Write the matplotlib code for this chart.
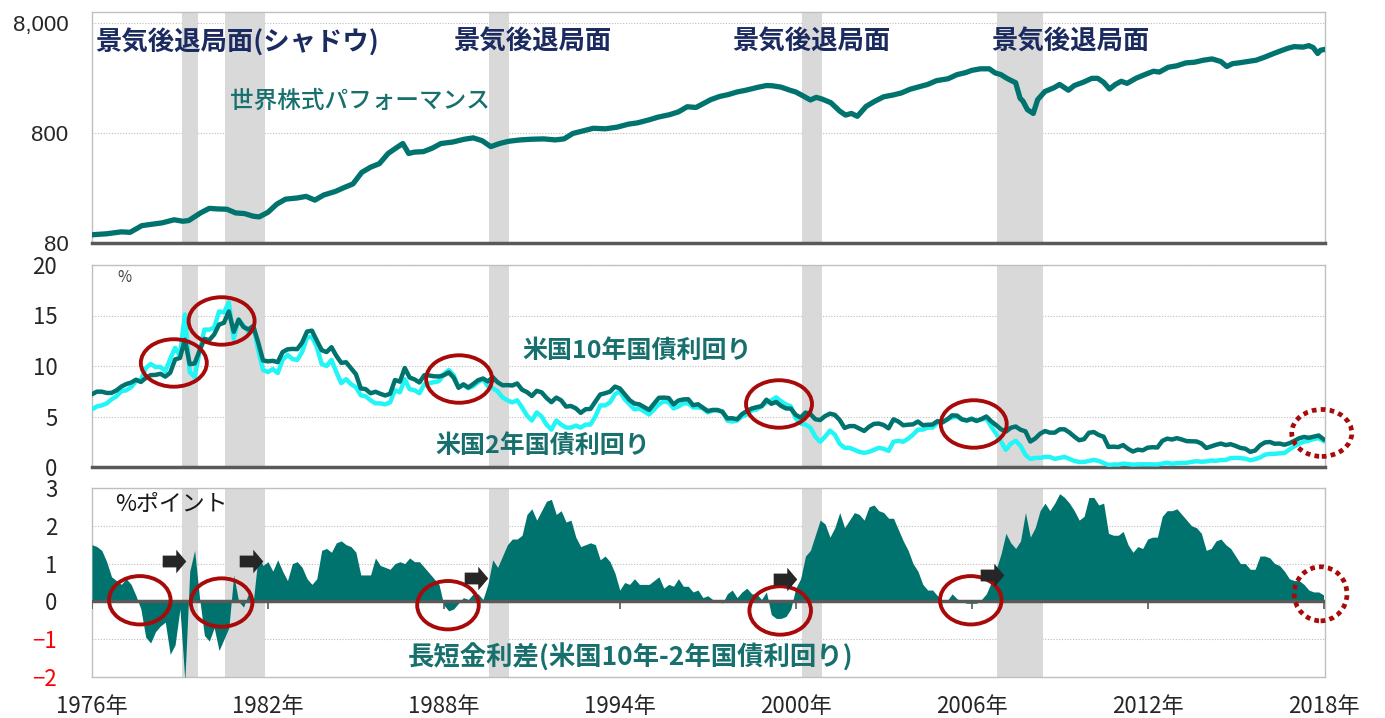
import numpy as np
import matplotlib
matplotlib.use("Agg")
import matplotlib.pyplot as plt
from matplotlib.patches import Ellipse
from matplotlib.path import Path

plt.rcParams['font.family'] = ['Noto Sans CJK JP', 'DejaVu Sans']

# ---------------- data ----------------
# world equity performance (log scale)
stock_years = [1976.0, 1976.5, 1977.0, 1977.3, 1977.7, 1978.0, 1978.4, 1978.8, 1979.1, 1979.3,
               1979.7, 1980.0, 1980.3, 1980.6, 1980.9, 1981.2, 1981.5, 1981.7, 1982.0, 1982.3,
               1982.6, 1983.0, 1983.3, 1983.6, 1983.9, 1984.3, 1984.6, 1984.9, 1985.2, 1985.5,
               1985.8, 1986.1, 1986.4, 1986.6, 1986.8, 1987.0, 1987.3, 1987.6, 1987.9, 1988.3,
               1988.7, 1989.0, 1989.3, 1989.6, 1989.9, 1990.2, 1990.6, 1991.0, 1991.4, 1991.8,
               1992.1, 1992.4, 1992.8, 1993.1, 1993.5, 1993.9, 1994.3, 1994.6, 1995.0, 1995.3,
               1995.7, 1996.0, 1996.3, 1996.6, 1996.8, 1997.1, 1997.4, 1997.7, 1998.0, 1998.3,
               1998.7, 1999.0, 1999.2, 1999.5, 1999.8, 2000.0, 2000.2, 2000.5, 2000.7, 2000.9,
               2001.2, 2001.5, 2001.7, 2001.9, 2002.1, 2002.4, 2002.7, 2003.0, 2003.3, 2003.6,
               2003.9, 2004.2, 2004.5, 2004.8, 2005.2, 2005.5, 2005.8, 2006.0, 2006.3, 2006.6,
               2006.8, 2007.0, 2007.2, 2007.5, 2007.65, 2007.75, 2007.9, 2008.0, 2008.1, 2008.25,
               2008.5, 2008.8, 2009.0, 2009.3, 2009.5, 2009.8, 2010.1, 2010.3, 2010.5, 2010.7,
               2010.9, 2011.1, 2011.3, 2011.6, 2011.9, 2012.2, 2012.4, 2012.7, 2013.0, 2013.3,
               2013.6, 2013.9, 2014.2, 2014.5, 2014.7, 2014.9, 2015.1, 2015.4, 2015.7, 2016.0,
               2016.3, 2016.6, 2016.8, 2017.0, 2017.3, 2017.5, 2017.65, 2017.8, 2017.9, 2018.0]
stock_values = [95, 97, 101, 100, 115, 118, 122, 130, 126, 128,
                150, 165, 163, 162, 150, 148, 140, 138, 152, 180,
                200, 205, 212, 196, 218, 235, 255, 275, 350, 390,
                420, 520, 590, 640, 520, 535, 540, 580, 640, 660,
                700, 720, 680, 600, 640, 670, 690, 700, 705, 690,
                705, 790, 840, 880, 870, 900, 960, 985, 1050, 1110,
                1170, 1240, 1380, 1360, 1450, 1600, 1710, 1780, 1880, 1950,
                2070, 2150, 2140, 2080, 1950, 1880, 1760, 1590, 1680, 1620,
                1500, 1260, 1160, 1200, 1130, 1390, 1550, 1700, 1760, 1840,
                1990, 2090, 2200, 2380, 2480, 2700, 2820, 2950, 3050, 3050,
                2800, 2700, 2500, 2280, 1650, 1550, 1300, 1250, 1200, 1600,
                1900, 2050, 2200, 1950, 2150, 2300, 2500, 2500, 2300, 2000,
                2200, 2350, 2250, 2500, 2700, 2900, 2850, 3150, 3250, 3450,
                3500, 3650, 3750, 3550, 3200, 3400, 3450, 3550, 3650, 3900,
                4200, 4500, 4700, 4850, 4800, 4950, 4750, 4200, 4500, 4550]

# US 10y / 2y yields (%), every two months from the left edge of the axis
us10y = [7.21, 7.46, 7.46, 7.33, 7.34, 7.58,
         7.96, 8.21, 8.36, 8.64, 8.42, 8.81,
         9.10, 9.12, 9.23, 8.95, 9.33, 10.65,
         10.80, 12.60, 10.18, 10.25, 11.51, 12.68,
         12.57, 13.12, 14.10, 14.28, 15.40, 13.39,
         14.59, 13.86, 13.62, 13.95, 12.34, 10.55,
         10.46, 10.51, 10.38, 11.38, 11.65, 11.69,
         11.67, 12.32, 13.41, 13.50, 12.52, 11.57,
         11.38, 11.86, 11.01, 10.31, 10.37, 9.78,
         9.19, 7.78, 7.71, 7.30, 7.45, 7.25,
         7.08, 7.25, 8.61, 8.45, 9.80, 8.86,
         8.67, 8.37, 9.09, 9.06, 8.98, 8.96,
         9.09, 9.36, 8.86, 7.84, 8.19, 7.87,
         8.21, 8.59, 8.76, 8.47, 8.89, 8.39,
         8.09, 8.11, 8.07, 8.27, 7.65, 7.42,
         7.03, 7.54, 7.39, 6.84, 6.42, 6.87,
         6.60, 5.98, 6.04, 5.81, 5.36, 5.72,
         5.75, 6.48, 7.18, 7.30, 7.46, 7.96,
         7.78, 7.20, 6.62, 6.28, 6.20, 5.93,
         5.65, 6.27, 6.85, 6.87, 6.83, 6.20,
         6.58, 6.69, 6.71, 6.12, 6.21, 5.88,
         5.54, 5.65, 5.65, 5.46, 4.81, 4.83,
         4.72, 5.23, 5.54, 5.79, 5.92, 6.03,
         6.66, 6.26, 6.44, 6.05, 5.80, 5.78,
         5.16, 4.89, 5.39, 5.24, 4.73, 4.65,
         5.04, 5.28, 5.16, 4.65, 3.87, 4.05,
         4.05, 3.81, 3.57, 3.98, 4.27, 4.30,
         4.15, 3.83, 4.72, 4.50, 4.13, 4.19,
         4.22, 4.50, 4.14, 4.18, 4.20, 4.54,
         4.42, 4.72, 5.11, 5.09, 4.72, 4.60,
         4.76, 4.56, 4.75, 5.00, 4.52, 4.15,
         3.74, 3.51, 3.88, 4.01, 3.69, 3.53,
         2.52, 2.82, 3.29, 3.56, 3.40, 3.40,
         3.73, 3.73, 3.42, 3.01, 2.65, 2.76,
         3.39, 3.46, 3.17, 3.00, 1.98, 2.01,
         1.97, 2.17, 1.80, 1.53, 1.72, 1.65,
         1.91, 1.96, 1.93, 2.58, 2.81, 2.72,
         2.86, 2.72, 2.56, 2.54, 2.53, 2.33,
         1.88, 2.04, 2.20, 2.32, 2.17, 2.26,
         2.09, 1.89, 1.81, 1.50, 1.63, 2.14,
         2.43, 2.48, 2.30, 2.32, 2.20, 2.35,
         2.58, 2.84, 2.98, 2.89, 3.00, 3.12,
         2.75]
us2y = [5.70, 6.00, 6.10, 6.30, 6.70, 7.00,
        7.50, 7.60, 7.90, 8.50, 8.60, 9.80,
        10.20, 9.90, 9.90, 9.50, 10.70, 11.80,
        11.00, 15.10, 9.40, 8.90, 11.40, 13.60,
        13.60, 13.80, 15.40, 15.30, 16.30, 12.70,
        14.60, 14.00, 13.40, 14.00, 11.60, 9.60,
        9.40, 9.70, 9.30, 10.60, 11.10, 10.70,
        10.60, 11.40, 12.80, 12.90, 11.90, 10.20,
        10.00, 10.60, 9.40, 8.30, 8.70, 8.20,
        7.90, 7.10, 7.00, 6.60, 6.30, 6.30,
        6.20, 6.40, 7.60, 7.40, 8.70, 7.70,
        7.60, 7.30, 8.20, 8.30, 8.40, 8.50,
        9.20, 9.60, 9.10, 7.90, 8.10, 7.80,
        8.00, 8.40, 8.70, 8.00, 7.80, 7.50,
        6.90, 6.60, 6.40, 6.60, 5.90, 5.10,
        4.60, 5.40, 5.00, 4.20, 3.70, 4.60,
        4.20, 3.90, 3.90, 4.10, 3.90, 4.20,
        4.20, 5.00, 6.10, 6.10, 6.40, 7.20,
        7.50, 6.70, 6.20, 5.70, 5.80, 5.50,
        5.20, 5.70, 6.20, 6.50, 6.40, 5.80,
        6.00, 6.30, 6.30, 5.90, 5.90, 5.80,
        5.40, 5.60, 5.60, 5.50, 4.60, 4.50,
        4.60, 5.00, 5.20, 5.60, 5.70, 6.00,
        6.40, 6.60, 6.90, 6.50, 6.20, 6.00,
        4.80, 4.30, 4.20, 3.90, 3.00, 2.50,
        3.00, 3.60, 3.20, 2.30, 1.90, 1.90,
        1.70, 1.50, 1.40, 1.50, 1.70, 1.90,
        1.80, 1.60, 2.50, 2.60, 2.50, 2.80,
        3.20, 3.70, 3.70, 3.90, 3.90, 4.40,
        4.40, 4.70, 4.90, 5.00, 4.70, 4.60,
        4.80, 4.60, 4.70, 4.80, 4.00, 3.30,
        2.50, 1.70, 2.30, 2.60, 2.10, 1.20,
        0.80, 0.90, 0.90, 1.00, 1.00, 0.80,
        0.90, 1.00, 0.80, 0.60, 0.50, 0.50,
        0.60, 0.70, 0.60, 0.40, 0.20, 0.25,
        0.24, 0.33, 0.29, 0.23, 0.26, 0.27,
        0.27, 0.26, 0.25, 0.34, 0.43, 0.31,
        0.39, 0.40, 0.42, 0.51, 0.57, 0.52,
        0.55, 0.64, 0.61, 0.69, 0.69, 0.88,
        0.90, 0.88, 0.82, 0.67, 0.77, 0.94,
        1.21, 1.31, 1.30, 1.36, 1.38, 1.73,
        2.03, 2.31, 2.51, 2.61, 2.77, 2.86,
        2.58]
# 10y-2y spread (% points), same dates
spread = [1.50, 1.45, 1.35, 1.05, 0.65, 0.55,
          0.45, 0.60, 0.45, 0.15, -0.20, -0.95,
          -1.10, -0.80, -0.65, -0.55, -1.40, -1.15,
          -0.20, -2.10, 0.80, 1.35, 0.10, -0.90,
          -1.05, -0.70, -1.30, -1.00, -0.70, 0.70,
          0.00, -0.15, 0.20, 0.00, 1.20, 0.95,
          1.05, 0.80, 1.10, 0.80, 0.55, 1.00,
          1.05, 0.90, 0.60, 0.45, 0.60, 1.35,
          1.40, 1.30, 1.55, 1.60, 1.50, 1.45,
          1.30, 0.70, 0.70, 0.70, 1.15, 0.95,
          0.90, 0.85, 1.00, 1.05, 1.00, 1.15,
          1.05, 1.05, 0.90, 0.75, 0.60, 0.45,
          -0.10, -0.25, -0.20, -0.05, 0.10, 0.05,
          0.20, 0.20, 0.05, 0.45, 1.10, 0.90,
          1.20, 1.50, 1.65, 1.65, 1.75, 2.30,
          2.45, 2.15, 2.40, 2.65, 2.70, 2.30,
          2.40, 2.10, 2.15, 1.70, 1.45, 1.50,
          1.55, 1.50, 1.10, 1.20, 1.05, 0.75,
          0.30, 0.50, 0.45, 0.60, 0.45, 0.45,
          0.45, 0.55, 0.65, 0.35, 0.45, 0.40,
          0.60, 0.40, 0.40, 0.25, 0.30, 0.10,
          0.15, 0.05, 0.05, -0.05, 0.20, 0.30,
          0.10, 0.25, 0.35, 0.20, 0.20, 0.05,
          0.25, -0.35, -0.45, -0.45, -0.40, -0.20,
          0.35, 0.60, 1.20, 1.35, 1.75, 2.15,
          2.05, 1.70, 1.95, 2.35, 1.95, 2.15,
          2.35, 2.30, 2.15, 2.50, 2.55, 2.40,
          2.35, 2.20, 2.20, 1.90, 1.60, 1.35,
          1.00, 0.80, 0.45, 0.30, 0.30, 0.15,
          0.02, 0.02, 0.20, 0.07, 0.00, -0.05,
          -0.05, -0.05, 0.05, 0.20, 0.50, 0.85,
          1.25, 1.80, 1.55, 1.40, 1.60, 2.35,
          1.70, 1.95, 2.40, 2.60, 2.40, 2.60,
          2.85, 2.75, 2.60, 2.40, 2.15, 2.25,
          2.75, 2.75, 2.55, 2.60, 1.80, 1.75,
          1.75, 1.85, 1.50, 1.30, 1.45, 1.40,
          1.65, 1.70, 1.70, 2.25, 2.40, 2.40,
          2.45, 2.30, 2.15, 2.00, 1.95, 1.80,
          1.35, 1.40, 1.60, 1.65, 1.50, 1.40,
          1.20, 1.00, 1.00, 0.85, 0.85, 1.20,
          1.20, 1.15, 1.00, 0.95, 0.80, 0.60,
          0.55, 0.55, 0.45, 0.30, 0.25, 0.25,
          0.17]
start_year = 1976.0
dates = start_year + np.arange(len(us10y)) / 6.0

recessions = [(1979.08, 1979.60), (1980.55, 1981.90), (1989.55, 1990.22),
              (2000.20, 2000.88), (2006.88, 2008.42)]
tick_years = [1976, 1982, 1988, 1994, 2000, 2006, 2012, 2018]
tick_labels = [f"{y}年" for y in tick_years]

# highlighted periods (circles) and arrows
yield_circles = [(1978.79, 10.3), (1980.42, 14.46), (1988.52, 8.71), (1999.43, 6.24), (2006.07, 4.26)]
yield_circle_last = (2017.94, 3.37)
spread_circles = [(1977.63, 0.03), (1980.42, -0.03), (1988.14, -0.10), (1999.47, -0.24), (2005.97, 0.03)]
spread_circle_last = (2017.90, 0.20)
arrow_x = [1978.79, 1981.41, 1989.10, 1999.64, 2006.68]
arrow_y = [1.08, 1.06, 0.63, 0.58, 0.71]

# ---------------- styling ----------------
W, H = 1385, 718
TEAL = '#00736E'
CYAN = '#22F5F5'
TXT_TEAL = '#17706E'
NAVY = '#1B2B5F'
RED = '#A80A0A'
SHADE = '#D9D9D9'
DARK = '#595959'
LIGHT = '#BFBFBF'
XMIN, XMAX = 1976.0, 2018.05

fig = plt.figure(figsize=(W / 100, H / 100), dpi=100)


def fx(px):
    return px / W


def fy(py):
    return 1 - py / H


def axes_px(top, bottom, left=92, right=1325):
    return fig.add_axes([fx(left), fy(bottom), fx(right) - fx(left), (bottom - top) / H])


ax1 = axes_px(12, 243)
ax2 = axes_px(265, 467)
ax3 = axes_px(488, 677)

for ax in (ax1, ax2, ax3):
    ax.set_xlim(XMIN, XMAX)
    for r0, r1 in recessions:
        ax.axvspan(r0, r1, color=SHADE, lw=0, zorder=1)
    for s in ('left', 'right', 'top', 'bottom'):
        ax.spines[s].set_color(LIGHT)
        ax.spines[s].set_linewidth(1.0)
    ax.set_axisbelow(True)
    ax.grid(axis='y', color='#BDBDBD', linestyle=(0, (1, 1.5)), lw=0.8)
    ax.grid(axis='x', visible=False)
    ax.tick_params(axis='both', length=0)
    ax.set_xticks(tick_years)

for ax in (ax1, ax2):
    ax.spines['bottom'].set_color(DARK)
    ax.spines['bottom'].set_linewidth(2.5)
    ax.tick_params(axis='x', labelbottom=False)

# ---- top panel ----
ax1.set_yscale('log')
ax1.set_ylim(80, 10000)
ax1.plot(stock_years, stock_values, color=TEAL, lw=3.8, zorder=3, solid_joinstyle='round')
ax1.set_yticks([80, 800, 8000])
ax1.set_yticklabels(['80', '800', '8,000'], family=['Liberation Sans', 'DejaVu Sans'],
                    fontsize=16, color='#262626')
ax1.yaxis.set_minor_locator(matplotlib.ticker.NullLocator())
ax1.tick_params(axis='y', pad=17)

# ---- middle panel ----
ax2.set_ylim(0, 20)
ax2.plot(dates, us2y, color=CYAN, lw=3.2, zorder=3)
ax2.plot(dates, us10y, color=TEAL, lw=3.2, zorder=4)
ax2.set_yticks([0, 5, 10, 15, 20])
ax2.set_yticklabels(['0', '5', '10', '15', '20'], fontsize=16, color='#262626')
ax2.tick_params(axis='y', pad=25)

for cx, cy in yield_circles:
    ax2.add_patch(Ellipse((cx, cy), 2.25, 4.7, fill=False, ec=RED, lw=2.8, zorder=6, clip_on=False))
ax2.add_patch(Ellipse(yield_circle_last, 2.05, 4.65, fill=False, ec=RED, lw=3.4,
                      linestyle=(0, (1, 0.9)), zorder=6, clip_on=False))

# ---- bottom panel ----
ax3.set_ylim(-2, 3)
ax3.fill_between(dates, spread, 0, color=TEAL, lw=0, zorder=3)
ax3.axhline(0, color=DARK, lw=2.5, zorder=4)
ax3.vlines(tick_years, -0.2, 0, color=DARK, lw=1.2, zorder=4)
ax3.set_yticks([-2, -1, 0, 1, 2, 3])
ax3.set_yticklabels(['\u22122', '\u22121', '0', '1', '2', '3'], fontsize=16)
for lab, v in zip(ax3.get_yticklabels(), [-2, -1, 0, 1, 2, 3]):
    lab.set_color('#FF0000' if v < 0 else '#262626')
ax3.tick_params(axis='y', pad=25)
ax3.set_xticklabels(tick_labels, fontsize=16, color='#262626')
ax3.tick_params(axis='x', pad=13)

for cx, cy in spread_circles:
    ax3.add_patch(Ellipse((cx, cy), 2.1, 1.28, fill=False, ec=RED, lw=2.8, zorder=6, clip_on=False))
ax3.add_patch(Ellipse(spread_circle_last, 1.8, 1.43, fill=False, ec=RED, lw=3.4,
                      linestyle=(0, (1, 0.9)), zorder=6, clip_on=False))

arrow_path = Path([(-1, -0.5), (0.15, -0.5), (0.15, -1), (1, 0), (0.15, 1), (0.15, 0.5),
                   (-1, 0.5), (-1, -0.5)],
                  [Path.MOVETO] + [Path.LINETO] * 6 + [Path.CLOSEPOLY])
ax3.plot(arrow_x, arrow_y, linestyle='none', marker=arrow_path, ms=17, color='#262626',
         mec='none', zorder=7, clip_on=False)

# ---------------- annotations ----------------
fig.text(fx(95), fy(42), '景気後退局面(シャドウ)', color=NAVY, fontsize=19, fontweight='bold', va='center')
for px in (453, 732, 991):
    fig.text(fx(px), fy(42), '景気後退局面', color=NAVY, fontsize=19, fontweight='bold', va='center')
fig.text(fx(230), fy(101), '世界株式パフォーマンス', color=TXT_TEAL, fontsize=17, fontweight='medium', va='center')
fig.text(fx(117), fy(278), '%', color='#404040', fontsize=11, va='center')
fig.text(fx(522), fy(352), '米国10年国債利回り', color=TXT_TEAL, fontsize=18, fontweight='bold', va='center')
fig.text(fx(435), fy(447), '米国2年国債利回り', color=TXT_TEAL, fontsize=18, fontweight='bold', va='center')
fig.text(fx(115), fy(504), '%ポイント', color='#1A1A1A', fontsize=16.5, va='center')
fig.text(fx(408), fy(658), '長短金利差(米国10年-2年国債利回り)', color=TXT_TEAL, fontsize=19,
         fontweight='bold', va='center')

fig.savefig('out.png', dpi=100)
